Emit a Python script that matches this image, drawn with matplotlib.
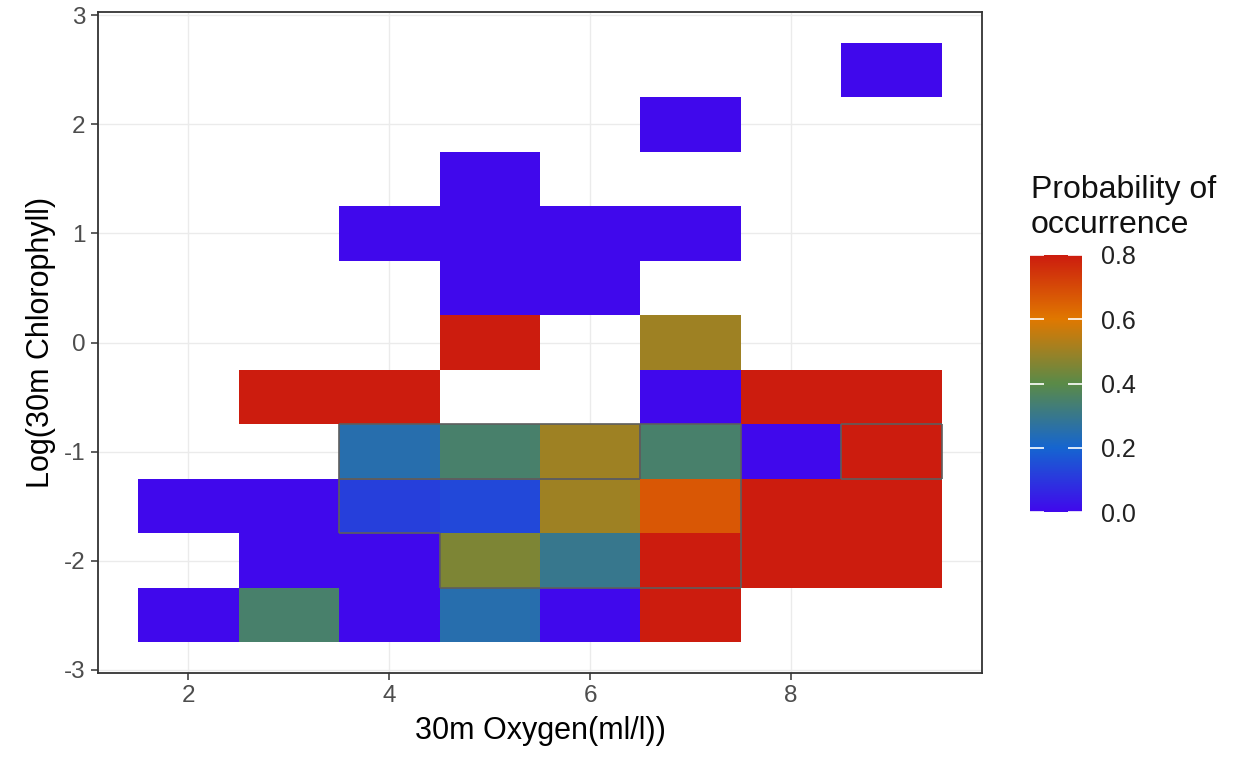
import numpy as np
import matplotlib
matplotlib.use("Agg")
import matplotlib.pyplot as plt
from matplotlib.colors import LinearSegmentedColormap
from matplotlib.collections import LineCollection

plt.rcParams['font.family'] = ['Liberation Sans', 'DejaVu Sans']

# ---- data (tile centres and probability) ----
oxygen = [9, 7, 5, 4, 5, 6, 7, 5, 6, 5, 7,
          3, 4, 7, 8, 9,
          4, 5, 6, 7, 8, 9,
          2, 3, 4, 5, 6, 7, 8, 9,
          3, 4, 5, 6, 7, 8, 9,
          2, 3, 4, 5, 6, 7]
chlorophyll = [2.5, 2.0, 1.5, 1.0, 1.0, 1.0, 1.0, 0.5, 0.5, 0.0, 0.0,
               -0.5, -0.5, -0.5, -0.5, -0.5,
               -1.0, -1.0, -1.0, -1.0, -1.0, -1.0,
               -1.5, -1.5, -1.5, -1.5, -1.5, -1.5, -1.5, -1.5,
               -2.0, -2.0, -2.0, -2.0, -2.0, -2.0, -2.0,
               -2.5, -2.5, -2.5, -2.5, -2.5, -2.5]
probability = [0.0, 0.0, 0.0, 0.0, 0.0, 0.0, 0.0, 0.0, 0.0, 0.8, 0.5,
               0.8, 0.8, 0.0, 0.8, 0.8,
               0.25, 0.35, 0.5, 0.35, 0.0, 0.8,
               0.0, 0.0, 0.12, 0.14, 0.5, 0.67, 0.8, 0.8,
               0.0, 0.0, 0.45, 0.3, 0.8, 0.8, 0.8,
               0.0, 0.35, 0.0, 0.25, 0.0, 0.8]

# outlined tile groups
outline_groups = [
    [(4, -1.0), (5, -1.0), (6, -1.0)],
    [(7, -1.0), (4, -1.5), (5, -1.5), (6, -1.5), (7, -1.5),
     (5, -2.0), (6, -2.0), (7, -2.0)],
    [(9, -1.0)],
]

x_ticks = [2, 4, 6, 8]
y_ticks = [-3, -2, -1, 0, 1, 2, 3]
cbar_ticks = [0.0, 0.2, 0.4, 0.6, 0.8]
cbar_labels = ["0.0", "0.2", "0.4", "0.6", "0.8"]

tile_w, tile_h = 1.0, 0.5

# ---- colour map ----
cmap = LinearSegmentedColormap.from_list(
    "prob", [(0.0, "#4008EC"), (0.25, "#1565D0"), (0.5, "#5A8A48"),
             (0.75, "#E07800"), (1.0, "#CC1C0E")])
vmin, vmax = 0.0, 0.8

# ---- build grid ----
xs = np.arange(min(oxygen), max(oxygen) + 1, tile_w)
ys = np.arange(min(chlorophyll), max(chlorophyll) + tile_h / 2, tile_h)
grid = np.full((len(ys), len(xs)), np.nan)
for xv, yv, pv in zip(oxygen, chlorophyll, probability):
    i = int(round((yv - ys[0]) / tile_h))
    j = int(round((xv - xs[0]) / tile_w))
    grid[i, j] = pv
x_edges = np.append(xs - tile_w / 2, xs[-1] + tile_w / 2)
y_edges = np.append(ys - tile_h / 2, ys[-1] + tile_h / 2)

W, H = 1237, 764
fig = plt.figure(figsize=(W / 100, H / 100), dpi=100)
ax = fig.add_axes([98 / W, 1 - 673 / H, (982 - 98) / W, (673 - 12) / H])

ax.set_axisbelow(True)
ax.grid(True, color="#EBEBEB", linewidth=1.0)
mesh = ax.pcolormesh(x_edges, y_edges, np.ma.masked_invalid(grid),
                     cmap=cmap, vmin=vmin, vmax=vmax, zorder=2)

# outlines (boundary edges of each group)
segs = []
for grp in outline_groups:
    s = set(grp)
    for (cx, cy) in grp:
        l, r = cx - tile_w / 2, cx + tile_w / 2
        b, t = cy - tile_h / 2, cy + tile_h / 2
        if (cx, cy + tile_h) not in s:
            segs.append([(l, t), (r, t)])
        if (cx, cy - tile_h) not in s:
            segs.append([(l, b), (r, b)])
        if (cx - tile_w, cy) not in s:
            segs.append([(l, b), (l, t)])
        if (cx + tile_w, cy) not in s:
            segs.append([(r, b), (r, t)])
ax.add_collection(LineCollection(segs, colors="#5E5E5E", linewidths=1.2, zorder=3))

ax.set_xlim(1.1, 9.9)
ax.set_ylim(-3.03, 3.03)
ax.set_xticks(x_ticks)
ax.set_yticks(y_ticks)
ax.set_xticklabels([str(v) for v in x_ticks])
ax.set_yticklabels([str(v) for v in y_ticks])
ax.tick_params(axis="both", colors="#333333", labelcolor="#4D4D4D",
               labelsize=17.5, length=5, width=1.1, pad=4)
for sp in ax.spines.values():
    sp.set_color("#333333")
    sp.set_linewidth(1.3)
ax.set_xlabel("30m Oxygen(ml/l))", fontsize=22, labelpad=6)
ax.set_ylabel("Log(30m Chlorophyll)", fontsize=22, labelpad=6)

# ---- colour bar ----
cax = fig.add_axes([1030 / W, 1 - 512 / H, 52 / W, (512 - 255) / H])
cb = fig.colorbar(mesh, cax=cax)
cb.outline.set_visible(False)
cb.set_ticks(cbar_ticks)
cb.set_ticklabels(cbar_labels)
cax.tick_params(left=True, right=True, direction="in", color="white",
                length=10, width=1.2, labelsize=18, labelcolor="#222222", pad=14)
fig.text(1031 / W, 1 - 175 / H, "Probability of\noccurrence", fontsize=23,
         ha="left", va="top", linespacing=1.2, color="#111111")

fig.savefig("out.png", dpi=100)
